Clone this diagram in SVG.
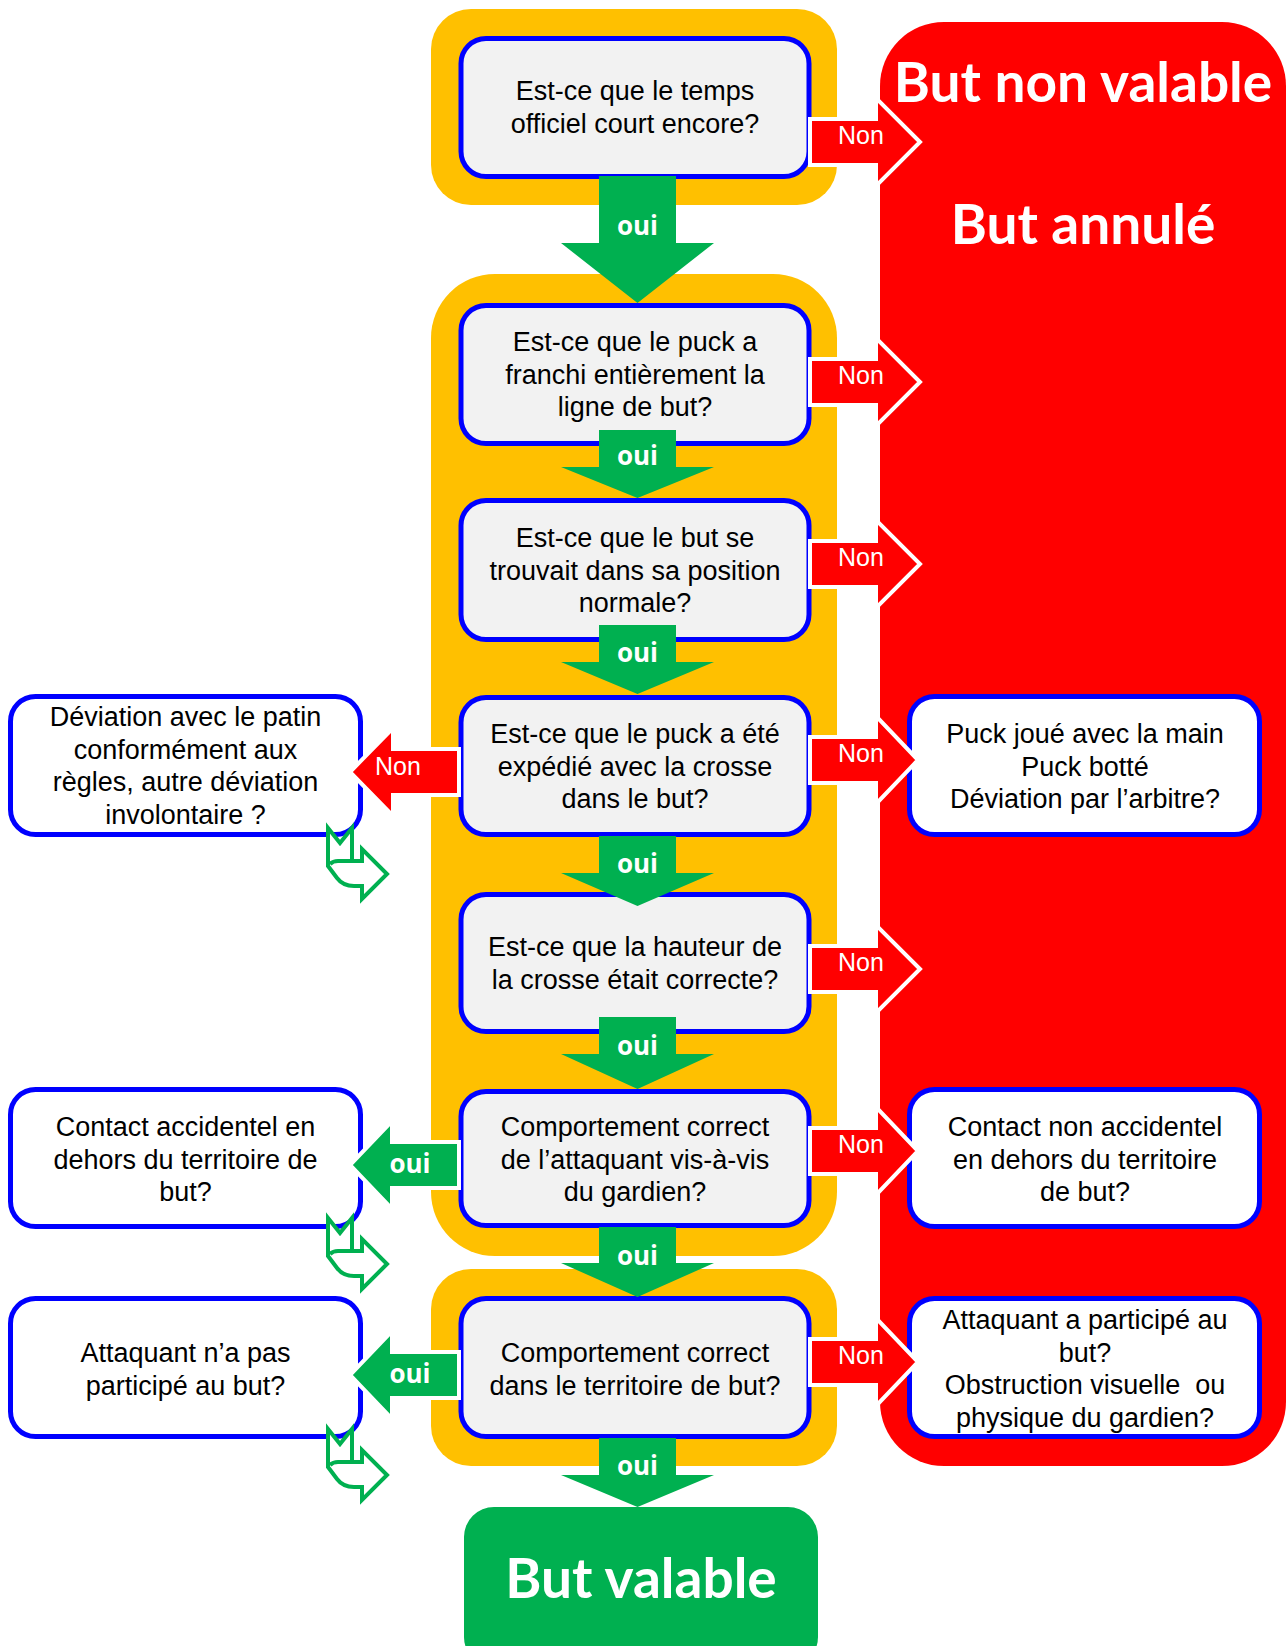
<svg xmlns="http://www.w3.org/2000/svg" width="1288" height="1646" viewBox="0 0 1288 1646">
<style>
.box{fill:#F2F2F2;stroke:#0000FF;stroke-width:5}
.sbox{fill:#FFFFFF;stroke:#0000FF;stroke-width:5}
.t{font-family:"Liberation Sans",Arial,sans-serif;font-size:27px;fill:#000;text-anchor:middle}
.non{fill:#FF0000;stroke:#FFFFFF;stroke-width:4;stroke-linejoin:miter}
.ouil{fill:#00B050;stroke:#FFFFFF;stroke-width:4;stroke-linejoin:miter}
.down{fill:#00B050}
.lbl{font-family:"Liberation Sans",Arial,sans-serif;font-size:25px;fill:#FFFFFF;text-anchor:middle}
.olbl{font-family:"Open Sans",sans-serif;font-weight:bold;font-size:26px;fill:#FFFFFF;text-anchor:middle}
.big{font-family:Lato,"Open Sans",sans-serif;font-weight:bold;font-size:55px;fill:#FFFFFF;text-anchor:middle}
.yel{fill:#FFC000}
.bent{fill:#FFFFFF;stroke:#00B050;stroke-width:4;stroke-linejoin:miter}
</style>
<defs>
<path id="bentArrow" d="M0,0 L12,15 L24,0 L24,33 L34,33 L34,21 L59,46 L34,71 L34,58 L26,58 Q15,58 9,50 L0,38 Z M24,33 L10,33 Q5,33 2,36"/>
</defs>

<g id="containers">
<rect id="yellow1" class="yel" x="431" y="9" width="406" height="196" rx="40"/>
<rect id="yellow2" class="yel" x="431" y="274" width="406" height="982" rx="64"/>
<rect id="yellow3" class="yel" x="431" y="1269" width="406" height="197" rx="40"/>
<rect id="red-panel" x="880" y="22" width="406" height="1444" rx="64" fill="#FF0000"/>
</g>

<g id="but-non-valable">
<text class="big" x="1083" y="102">But non valable</text>
<text class="big" x="1083" y="244">But annulé</text>
</g>

<g id="q1">
<rect class="box" x="461" y="38.5" width="348" height="138" rx="25"/>
<text class="t" x="635" y="100">Est-ce que le temps</text>
<text class="t" x="635" y="133">officiel court encore?</text>
</g>
<g id="q2">
<rect class="box" x="461" y="305.5" width="348" height="138" rx="25"/>
<text class="t" x="635" y="351">Est-ce que le puck a</text>
<text class="t" x="635" y="383.5">franchi entièrement la</text>
<text class="t" x="635" y="416">ligne de but?</text>
</g>
<g id="q3">
<rect class="box" x="461" y="500.5" width="348" height="139" rx="25"/>
<text class="t" x="635" y="547">Est-ce que le but se</text>
<text class="t" x="635" y="579.5">trouvait dans sa position</text>
<text class="t" x="635" y="612">normale?</text>
</g>
<g id="q4">
<rect class="box" x="461" y="697.5" width="348" height="137" rx="25"/>
<text class="t" x="635" y="743">Est-ce que le puck a été</text>
<text class="t" x="635" y="775.5">expédié avec la crosse</text>
<text class="t" x="635" y="808">dans le but?</text>
</g>
<g id="q5">
<rect class="box" x="461" y="894.5" width="348" height="137" rx="25"/>
<text class="t" x="635" y="956">Est-ce que la hauteur de</text>
<text class="t" x="635" y="988.5">la crosse était correcte?</text>
</g>
<g id="q6">
<rect class="box" x="461" y="1091.5" width="348" height="134" rx="25"/>
<text class="t" x="635" y="1136">Comportement correct</text>
<text class="t" x="635" y="1168.5">de l’attaquant vis-à-vis</text>
<text class="t" x="635" y="1201">du gardien?</text>
</g>
<g id="q7">
<rect class="box" x="461" y="1298.5" width="348" height="138" rx="25"/>
<text class="t" x="635" y="1362">Comportement correct</text>
<text class="t" x="635" y="1395">dans le territoire de but?</text>
</g>

<g id="l1">
<rect class="sbox" x="10.5" y="696.5" width="350" height="138" rx="25"/>
<text class="t" x="185.5" y="726">Déviation avec le patin</text>
<text class="t" x="185.5" y="758.5">conformément aux</text>
<text class="t" x="185.5" y="791">règles, autre déviation</text>
<text class="t" x="185.5" y="823.5">involontaire ?</text>
</g>
<g id="l2">
<rect class="sbox" x="10.5" y="1089.5" width="350" height="137" rx="25"/>
<text class="t" x="185.5" y="1136">Contact accidentel en</text>
<text class="t" x="185.5" y="1168.5">dehors du territoire de</text>
<text class="t" x="185.5" y="1201">but?</text>
</g>
<g id="l3">
<rect class="sbox" x="10.5" y="1298.5" width="350" height="138" rx="25"/>
<text class="t" x="185.5" y="1362">Attaquant n’a pas</text>
<text class="t" x="185.5" y="1395">participé au but?</text>
</g>

<g id="r1">
<rect class="sbox" x="909.5" y="696.5" width="350" height="138" rx="25"/>
<text class="t" x="1085" y="743">Puck joué avec la main</text>
<text class="t" x="1085" y="775.5">Puck botté</text>
<text class="t" x="1085" y="808">Déviation par l’arbitre?</text>
</g>
<g id="r2">
<rect class="sbox" x="909.5" y="1089.5" width="350" height="137" rx="25"/>
<text class="t" x="1085" y="1136">Contact non accidentel</text>
<text class="t" x="1085" y="1168.5">en dehors du territoire</text>
<text class="t" x="1085" y="1201">de but?</text>
</g>
<g id="r3">
<rect class="sbox" x="909.5" y="1298.5" width="350" height="138" rx="25"/>
<text class="t" x="1085" y="1329">Attaquant a participé au</text>
<text class="t" x="1085" y="1361.5">but?</text>
<text class="t" x="1085" y="1394">Obstruction visuelle&#160; ou</text>
<text class="t" x="1085" y="1426.5">physique du gardien?</text>
</g>

<g id="but-valable">
<rect x="464" y="1507" width="354" height="160" rx="30" fill="#00B050"/>
<text class="big" x="641" y="1598">But valable</text>
</g>

<g id="connectors">
<g id="down-arrows">
<path class="down" d="M599,176 H676 V243 H714 L637.5,303 L561,243 H599 Z"/>
<text class="olbl" x="637.5" y="235">oui</text>
<path class="down" d="M599,430 H676 V467 H714 L637.5,498 L561,467 H599 Z"/>
<text class="olbl" x="637.5" y="465">oui</text>
<path class="down" d="M599,625 H676 V662 H714 L637.5,694 L561,662 H599 Z"/>
<text class="olbl" x="637.5" y="662">oui</text>
<path class="down" d="M599,836 H676 V873 H714 L637.5,906 L561,873 H599 Z"/>
<text class="olbl" x="637.5" y="873">oui</text>
<path class="down" d="M599,1017 H676 V1054 H714 L637.5,1089 L561,1054 H599 Z"/>
<text class="olbl" x="637.5" y="1055">oui</text>
<path class="down" d="M599,1227 H676 V1263 H714 L637.5,1297 L561,1263 H599 Z"/>
<text class="olbl" x="637.5" y="1265">oui</text>
<path class="down" d="M599,1438 H676 V1475 H714 L637.5,1507 L561,1475 H599 Z"/>
<text class="olbl" x="637.5" y="1475">oui</text>
</g>
<g id="non-arrows">
<path class="non" d="M810,119 H876 V98 L920,142 L876,186 V165 H810 Z"/>
<text class="lbl" x="861" y="144">Non</text>
<path class="non" d="M810,359 H876 V338 L920,382 L876,426 V405 H810 Z"/>
<text class="lbl" x="861" y="384">Non</text>
<path class="non" d="M810,541 H876 V520 L920,564 L876,608 V587 H810 Z"/>
<text class="lbl" x="861" y="566">Non</text>
<path class="non" d="M810,737 H876 V716 L918,760 L876,804 V783 H810 Z"/>
<text class="lbl" x="861" y="762">Non</text>
<path class="non" d="M810,946 H876 V925 L920,969 L876,1013 V992 H810 Z"/>
<text class="lbl" x="861" y="971">Non</text>
<path class="non" d="M810,1128 H876 V1107 L918,1151 L876,1195 V1174 H810 Z"/>
<text class="lbl" x="861" y="1153">Non</text>
<path class="non" d="M810,1339 H876 V1318 L918,1362 L876,1406 V1385 H810 Z"/>
<text class="lbl" x="861" y="1364">Non</text>
<path class="non" d="M459,749 H393 V728 L350,772 L393,816 V795 H459 Z"/>
<text class="lbl" x="398" y="775">Non</text>
</g>
<g id="oui-left-arrows">
<path class="ouil" d="M459,1142 H392 V1121 L350,1165 L392,1209 V1188 H459 Z"/>
<text class="olbl" x="410" y="1173">oui</text>
<path class="ouil" d="M459,1352 H392 V1331 L350,1375 L392,1419 V1398 H459 Z"/>
<text class="olbl" x="410" y="1383">oui</text>
</g>
<g id="bent-arrows">
<use href="#bentArrow" class="bent" x="328" y="828"/>
<use href="#bentArrow" class="bent" x="328" y="1218"/>
<use href="#bentArrow" class="bent" x="328" y="1429"/>
</g>
</g>
</svg>
